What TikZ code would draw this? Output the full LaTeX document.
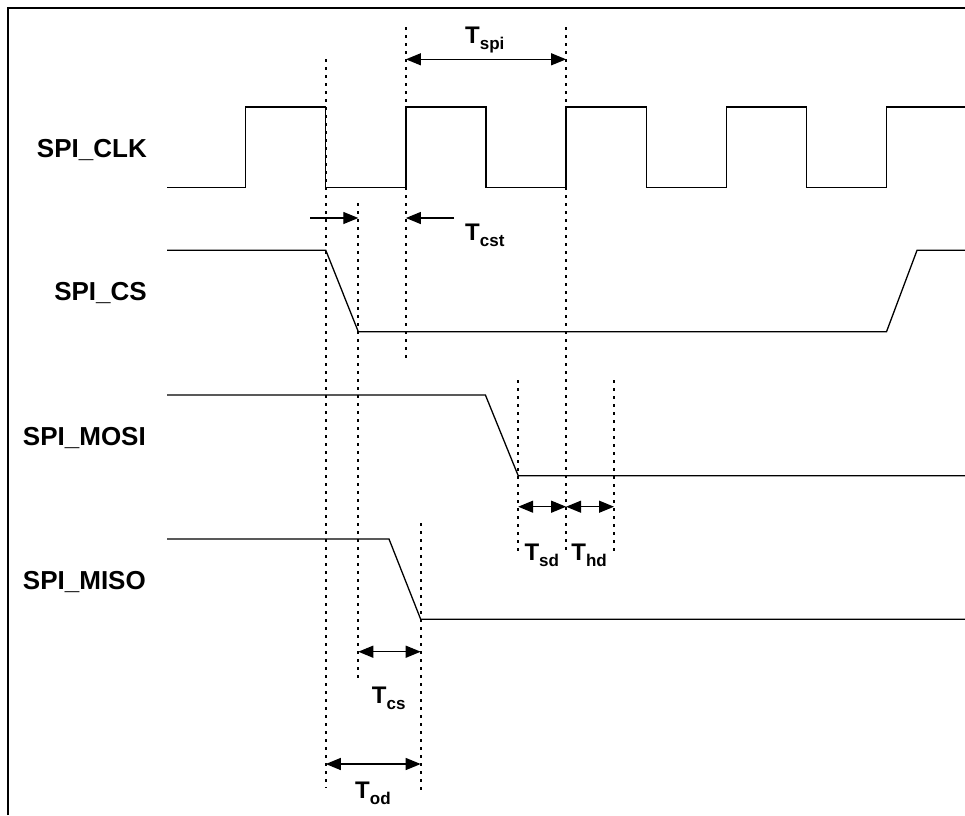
\documentclass[tikz,border=0pt]{standalone}
\usepackage{fontspec}
\setmainfont{Liberation Sans}
\usetikzlibrary{arrows.meta}
\tikzset{
  sig/.style={line width=1.3pt},
  guide/.style={line width=1.7pt, dash pattern=on 3pt off 5pt},
  dimarrow/.style={line width=1.3pt, {Triangle[length=15pt,width=12pt]}-{Triangle[length=15pt,width=12pt]}},
  halfarrow/.style={line width=1.3pt, -{Triangle[length=15pt,width=12pt]}},
  signame/.style={font=\bfseries\fontsize{26}{30}\selectfont, anchor=base east, inner sep=0pt},
  tlab/.style={font=\bfseries\fontsize{24}{28}\selectfont, anchor=base west, inner sep=0pt},
}
\newcommand{\tsub}[1]{T\raisebox{-6pt}{\fontsize{17}{17}\selectfont #1}}
\begin{document}
\begin{tikzpicture}[x=1pt,y=-1pt]
  \useasboundingbox (0,0) rectangle (965,815);
  %frame
  \draw[line width=1.6pt] (8,815) -- (8,8) -- (965,8);
  %signal names
  \node[signame] (clk) at (147,157.3) {SPI\_CLK};
  \node[signame] (cs) at (147,300.7) {SPI\_CS};
  \node[signame] (mosi) at (146,445) {SPI\_MOSI};
  \node[signame] (miso) at (146,589) {SPI\_MISO};
  %SPI_CLK
  \draw[sig] (167,187.7) -- (245.7,187.7) -- (245.7,107) -- (325.8,107) -- (325.8,187.7)
    -- (405.9,187.7) -- (405.9,107) -- (486,107) -- (486,187.7) -- (566.1,187.7) -- (566.1,107)
    -- (646.2,107) -- (646.2,187.7) -- (726.3,187.7) -- (726.3,107) -- (806.4,107) -- (806.4,187.7)
    -- (886.5,187.7) -- (886.5,107) -- (965,107);
  %SPI_CS
  \draw[sig] (167,250.3) -- (325.8,250.3) -- (358.3,331.7) -- (886.5,331.7) -- (917,250.3) -- (965,250.3);
  %SPI_MOSI
  \draw[sig] (167,395) -- (485.4,395) -- (518.2,475.7) -- (965,475.7);
  %SPI_MISO
  \draw[sig] (167,539) -- (389,539) -- (420.7,619.3) -- (965,619.3);
  %guide lines
  \draw[guide] (325.8,59) -- (325.8,788);
  \draw[guide] (358.3,203) -- (358.3,678);
  \draw[guide] (405.9,27) -- (405.9,362);
  \draw[guide] (566.1,27) -- (566.1,553);
  \draw[guide] (420.7,523) -- (420.7,792);
  \draw[guide] (518.2,380) -- (518.2,553);
  \draw[guide] (614,380) -- (614,553);
  %T_spi
  \coordinate (spiL) at (405.9,59.3);
  \coordinate (spiR) at (566.1,59.3);
  \draw[dimarrow] (spiL) -- (spiR);
  \node[tlab] (tspi) at (465,43.3) {\tsub{spi}};
  %T_cst
  \coordinate (cstA) at (310,218);
  \coordinate (cstB) at (358.3,218);
  \coordinate (cstC) at (454,218);
  \coordinate (cstD) at (405.9,218);
  \draw[halfarrow] (cstA) -- (cstB);
  \draw[halfarrow] (cstC) -- (cstD);
  \node[tlab] (tcst) at (465,240.7) {\tsub{cst}};
  %T_sd, T_hd
  \coordinate (sdL) at (518.2,506.7);
  \coordinate (sdR) at (566.1,506.7);
  \coordinate (hdR) at (614,506.7);
  \draw[dimarrow] (sdL) -- (sdR);
  \draw[dimarrow] (sdR) -- (hdR);
  \node[tlab] (tsd) at (524.3,560) {\tsub{sd}};
  \node[tlab] (thd) at (571.2,560) {\tsub{hd}};
  %T_cs
  \coordinate (csL) at (358.3,651.7);
  \coordinate (csR) at (420.7,651.7);
  \draw[dimarrow] (csL) -- (csR);
  \node[tlab] (tcs) at (371.7,703) {\tsub{cs}};
  %T_od
  \coordinate (odL) at (325.8,764);
  \coordinate (odR) at (420.7,764);
  \draw[dimarrow] (odL) -- (odR);
  \node[tlab] (tod) at (355,798.3) {\tsub{od}};
\end{tikzpicture}
\end{document}
